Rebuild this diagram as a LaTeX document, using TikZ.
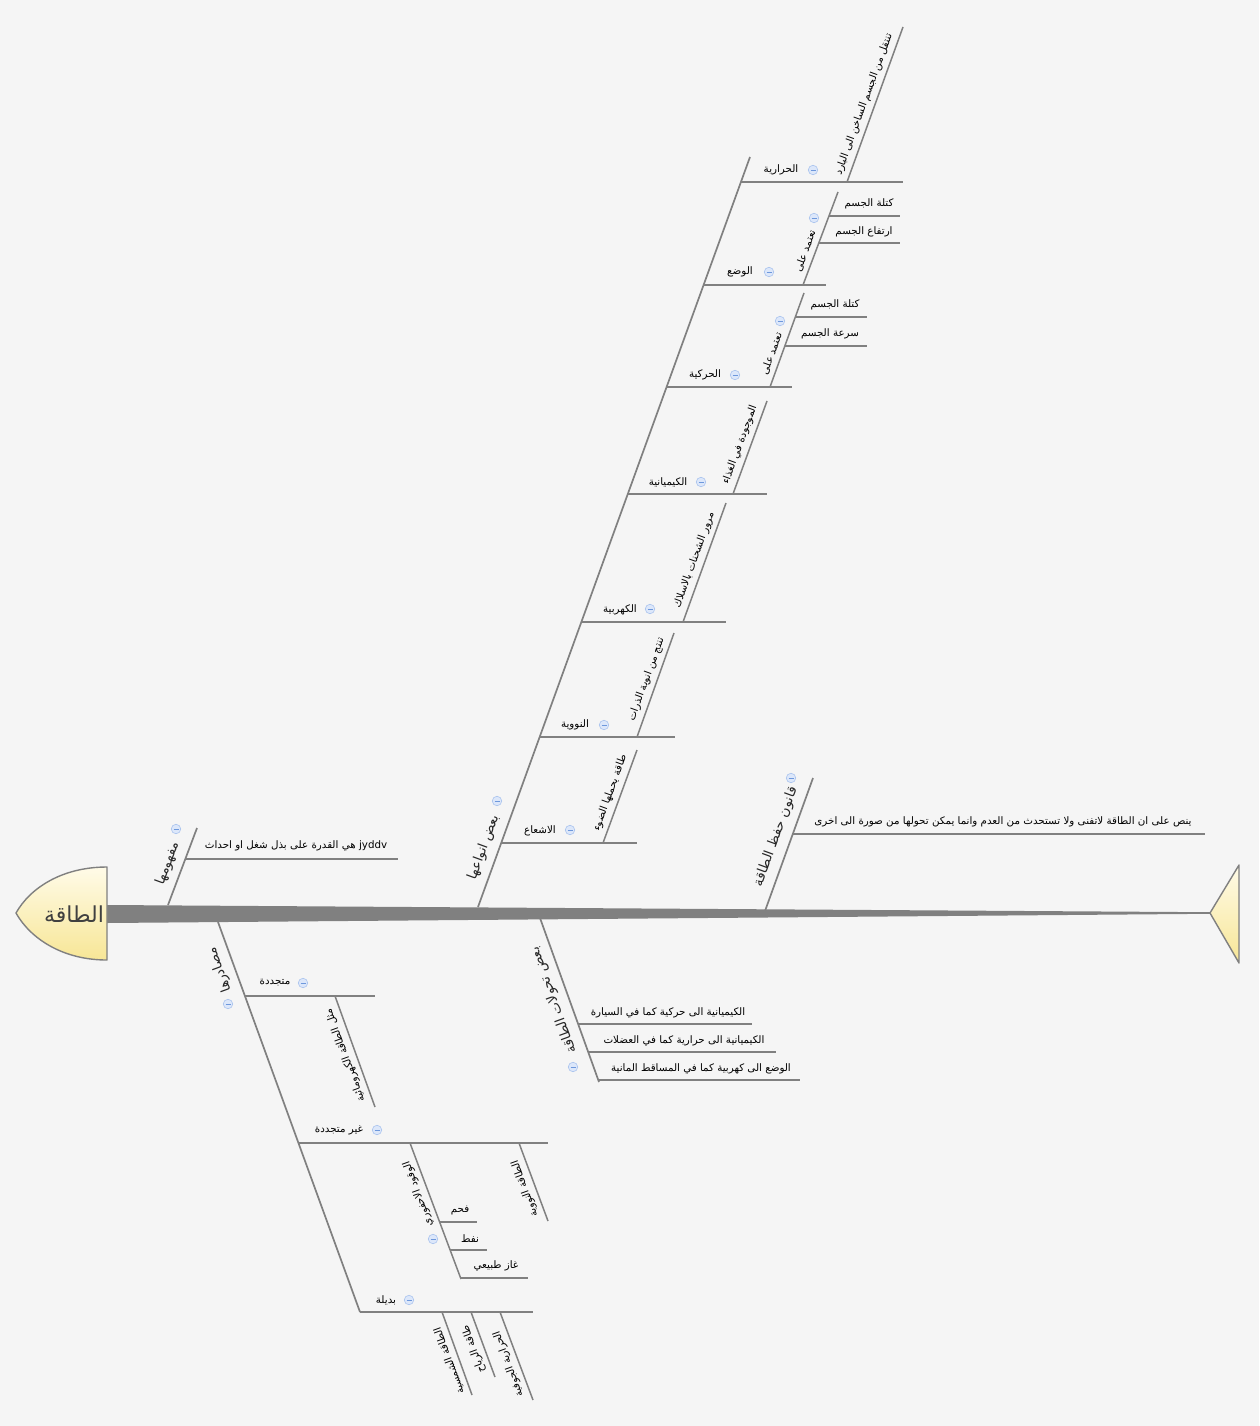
\documentclass[tikz,border=0pt]{standalone}
\usepackage{fontspec}
\newfontfamily\arabicfont[Script=Arabic]{DejaVu Sans}
\TeXXeTstate=1
\newcommand{\artxt}[1]{\beginR #1\endR}
\definecolor{bgc}{HTML}{F5F5F5}
\definecolor{linegray}{HTML}{808080}
\definecolor{headtop}{HTML}{FFFBE8}
\definecolor{headbot}{HTML}{F7E696}
\definecolor{btnfill}{HTML}{DCE7FA}
\definecolor{btnedge}{HTML}{A9C3EE}
\definecolor{btnminus}{HTML}{6E98DC}
\tikzset{
  bone/.style={draw=linegray, line width=1.7pt},
  subline/.style={draw=linegray, line width=1.5pt},
  lbl/.style={inner sep=0pt, text=black, font=\arabicfont\fontsize{10.3}{12}\selectfont},
  blbl/.style={inner sep=0pt, text=black!85, font=\arabicfont\fontsize{13.5}{15}\selectfont},
  upside/.style={rotate=70, anchor=south, inner sep=5pt},
  downside/.style={rotate=110, anchor=south, inner sep=5pt},
  bupside/.style={rotate=70, anchor=south, inner sep=8pt},
  bdownside/.style={rotate=110, anchor=south, inner sep=8pt},
  btn/.style={circle, inner sep=0pt, minimum size=9.5pt, fill=btnfill, draw=btnedge, line width=0.6pt,
    path picture={\draw[btnminus, line width=0.8pt] ([xshift=-2.5pt]path picture bounding box.center) -- ([xshift=2.5pt]path picture bounding box.center);}},
}
\begin{document}
\begin{tikzpicture}[x=1pt, y=-1pt]
\fill[bgc] (0,0) rectangle (1259,1426);
\useasboundingbox (0,0) rectangle (1259,1426);

% ---------- spine ----------
\coordinate (spL1) at (107,905);
\coordinate (spL2) at (107,923);
\coordinate (spR) at (1210,913);
\fill[linegray] (spL1) -- ([yshift=0.8pt]spR) -- ([yshift=-0.8pt]spR) -- (spL2) -- cycle;

% ---------- head ----------
\coordinate (hTop) at (107,867);
\coordinate (hTip) at (16,913);
\coordinate (hBot) at (107,960);
\shade[top color=headtop, bottom color=headbot] (hTop) .. controls (62,867) and (30,888) .. (hTip) .. controls (30,938) and (62,960) .. (hBot) -- cycle;
\draw[linegray, line width=1.4pt, line join=round] (hTop) .. controls (62,867) and (30,888) .. (hTip) .. controls (30,938) and (62,960) .. (hBot) -- cycle;
\node[inner sep=0pt, text=black!75, font=\arabicfont\fontsize{22}{25}\selectfont] (head) at (74,914) {\artxt{الطاقة}};

% ---------- tail ----------
\coordinate (tTip) at (1210,913);
\coordinate (tTop) at (1239,865);
\coordinate (tBot) at (1239,963);
\shade[top color=headtop, bottom color=headbot] (tTip) -- (tTop) -- (tBot) -- cycle;
\draw[linegray, line width=1.4pt, line join=round] (tTip) -- (tTop) -- (tBot) -- cycle;

% ---------- bone: mafhumuha ----------
\coordinate (mA) at (168,905);
\coordinate (mB) at (197,828);
\draw[bone] (mA) -- (mB);
\path (mA) -- (mB) node[blbl, bupside, pos=0.475] (mL) {\artxt{مفهومها}};
\node[btn] (mBtn) at (176,829) {};
\coordinate (m1a) at (185,859);
\coordinate (m1b) at (398,859);
\draw[subline] (m1a) -- (m1b);
\node[lbl] (m1L) at (296,846) {\artxt{\beginL jyddv\endL{} هي القدرة على بذل شغل او احداث}};

% ---------- bone: anwa ----------
\coordinate (aA) at (478,907);
\coordinate (aB) at (750,157);
\draw[bone] (aA) -- (aB);
\path (aA) -- (aB) node[blbl, bupside, pos=0.073] (aL) {\artxt{بعض انواعها}};
\node[btn] (aBtn) at (497,801) {};

% radiation
\coordinate (r0) at (501,843); \coordinate (r1) at (637,843);
\draw[subline] (r0) -- (r1);
\node[lbl] (rL) at (540,831) {\artxt{الاشعاع}};
\node[btn] (rBtn) at (570,830) {};
\coordinate (rs0) at (603,843); \coordinate (rs1) at (637,750);
\draw[subline] (rs0) -- (rs1);
\path (rs0) -- (rs1) node[lbl, upside, pos=0.5] (rsL) {\artxt{طاقة يحملها الضوء}};

% nuclear
\coordinate (n0) at (540,737); \coordinate (n1) at (675,737);
\draw[subline] (n0) -- (n1);
\node[lbl] (nL) at (575,725) {\artxt{النووية}};
\node[btn] (nBtn) at (604,725) {};
\coordinate (ns0) at (637,737); \coordinate (ns1) at (674,633);
\draw[subline] (ns0) -- (ns1);
\path (ns0) -- (ns1) node[lbl, upside, pos=0.52] (nsL) {\artxt{تنتج من انوية الذرات}};

% electric
\coordinate (e0) at (581,622); \coordinate (e1) at (726,622);
\draw[subline] (e0) -- (e1);
\node[lbl] (eL) at (620,610) {\artxt{الكهربية}};
\node[btn] (eBtn) at (650,609) {};
\coordinate (es0) at (683,622); \coordinate (es1) at (726,503);
\draw[subline] (es0) -- (es1);
\path (es0) -- (es1) node[lbl, upside, pos=0.49] (esL) {\artxt{مرور الشحنات بالاسلاك}};

% chemical
\coordinate (c0) at (628,494); \coordinate (c1) at (767,494);
\draw[subline] (c0) -- (c1);
\node[lbl] (cL) at (668,482) {\artxt{الكيميانية}};
\node[btn] (cBtn) at (701,482) {};
\coordinate (cs0) at (733,494); \coordinate (cs1) at (767,401);
\draw[subline] (cs0) -- (cs1);
\path (cs0) -- (cs1) node[lbl, upside, pos=0.49] (csL) {\artxt{الموجودة في الغذاء}};

% kinetic
\coordinate (k0) at (666,387); \coordinate (k1) at (792,387);
\draw[subline] (k0) -- (k1);
\node[lbl] (kL) at (705,375) {\artxt{الحركية}};
\node[btn] (kBtn) at (735,375) {};
\coordinate (ks0) at (770,387); \coordinate (ks1) at (804,293);
\draw[subline] (ks0) -- (ks1);
\path (ks0) -- (ks1) node[lbl, upside, pos=0.32] (ksL) {\artxt{تعتمد على}};
\node[btn] (ksBtn) at (780,321) {};
\coordinate (k10) at (795,317); \coordinate (k11) at (867,317);
\draw[subline] (k10) -- (k11);
\node[lbl] (k1L) at (835,305) {\artxt{كتلة الجسم}};
\coordinate (k20) at (785,346); \coordinate (k21) at (867,346);
\draw[subline] (k20) -- (k21);
\node[lbl] (k2L) at (830,334) {\artxt{سرعة الجسم}};

% potential
\coordinate (p0) at (703,285); \coordinate (p1) at (826,285);
\draw[subline] (p0) -- (p1);
\node[lbl] (pL) at (740,272) {\artxt{الوضع}};
\node[btn] (pBtn) at (769,272) {};
\coordinate (ps0) at (803,285); \coordinate (ps1) at (838,192);
\draw[subline] (ps0) -- (ps1);
\path (ps0) -- (ps1) node[lbl, upside, pos=0.33] (psL) {\artxt{تعتمد على}};
\node[btn] (psBtn) at (814,218) {};
\coordinate (p10) at (829,216); \coordinate (p11) at (900,216);
\draw[subline] (p10) -- (p11);
\node[lbl] (p1L) at (869,204) {\artxt{كتلة الجسم}};
\coordinate (p20) at (819,243); \coordinate (p21) at (900,243);
\draw[subline] (p20) -- (p21);
\node[lbl] (p2L) at (864,232) {\artxt{ارتفاع الجسم}};

% thermal
\coordinate (h0) at (741,182); \coordinate (h1) at (903,182);
\draw[subline] (h0) -- (h1);
\node[lbl] (thL) at (781,170) {\artxt{الحرارية}};
\node[btn] (thBtn) at (813,170) {};
\coordinate (hs0) at (847,182); \coordinate (hs1) at (903,27);
\draw[subline] (hs0) -- (hs1);
\path (hs0) -- (hs1) node[lbl, upside, pos=0.48] (hsL) {\artxt{تنتقل من الجسم الساخن الى البارد}};

% ---------- bone: qanun ----------
\coordinate (qA) at (765,911);
\coordinate (qB) at (813,778);
\draw[bone] (qA) -- (qB);
\path (qA) -- (qB) node[blbl, bupside, pos=0.52] (qL) {\artxt{قانون حفظ الطاقة}};
\node[btn] (qBtn) at (791,778) {};
\coordinate (q10) at (793,834); \coordinate (q11) at (1205,834);
\draw[subline] (q10) -- (q11);
\node[lbl] (q1L) at (1003,822) {\artxt{ينص على ان الطاقة لاتفنى ولا تستحدث من العدم وانما يمكن تحولها من صورة الى اخرى}};

% ---------- bone: masadir ----------
\coordinate (sA) at (218,922);
\coordinate (sB) at (360,1312);
\draw[bone] (sA) -- (sB);
\path (sA) -- (sB) node[blbl, bdownside, pos=0.11] (sL) {\artxt{مصادرها}};
\node[btn] (sBtn) at (228,1004) {};

% renewable
\coordinate (u0) at (245,996); \coordinate (u1) at (375,996);
\draw[subline] (u0) -- (u1);
\node[lbl] (uL) at (275,983) {\artxt{متجددة}};
\node[btn] (uBtn) at (303,983) {};
\coordinate (us0) at (335,996); \coordinate (us1) at (375,1107);
\draw[subline] (us0) -- (us1);
\path (us0) -- (us1) node[lbl, downside, pos=0.5] (usL) {\artxt{مثل الطاقة الكهرومائية}};

% non-renewable
\coordinate (v0) at (298,1143); \coordinate (v1) at (548,1143);
\draw[subline] (v0) -- (v1);
\node[lbl] (vL) at (339,1130) {\artxt{غير متجددة}};
\node[btn] (vBtn) at (377,1130) {};
\coordinate (vn0) at (519,1143); \coordinate (vn1) at (548,1221);
\draw[subline] (vn0) -- (vn1);
\path (vn0) -- (vn1) node[lbl, downside, pos=0.54] (vnL) {\artxt{الطاقة النووية}};
\coordinate (vf0) at (410,1143); \coordinate (vf1) at (461,1279);
\draw[subline] (vf0) -- (vf1);
\path (vf0) -- (vf1) node[lbl, downside, pos=0.35] (vfL) {\artxt{الوقود الاحفوري}};
\node[btn] (vfBtn) at (433,1239) {};
\coordinate (f10) at (440,1222); \coordinate (f11) at (477,1222);
\draw[subline] (f10) -- (f11);
\node[lbl] (f1L) at (460,1210) {\artxt{فحم}};
\coordinate (f20) at (450,1250); \coordinate (f21) at (487,1250);
\draw[subline] (f20) -- (f21);
\node[lbl] (f2L) at (470,1239) {\artxt{نفط}};
\coordinate (f30) at (460,1278); \coordinate (f31) at (528,1278);
\draw[subline] (f30) -- (f31);
\node[lbl] (f3L) at (496,1266) {\artxt{غاز طبيعي}};

% alternative
\coordinate (w0) at (360,1312); \coordinate (w1) at (533,1312);
\draw[subline] (w0) -- (w1);
\node[lbl] (wL) at (386,1300) {\artxt{بديلة}};
\node[btn] (wBtn) at (409,1300) {};
\coordinate (wa0) at (442,1312); \coordinate (wa1) at (472,1395);
\draw[subline] (wa0) -- (wa1);
\path (wa0) -- (wa1) node[lbl, downside, pos=0.55] (waL) {\artxt{الطاقة الشمسية}};
\coordinate (wb0) at (471,1312); \coordinate (wb1) at (495,1377);
\draw[subline] (wb0) -- (wb1);
\path (wb0) -- (wb1) node[lbl, downside, pos=0.52] (wbL) {\artxt{طاقة الرياح}};
\coordinate (wc0) at (500,1312); \coordinate (wc1) at (533,1400);
\draw[subline] (wc0) -- (wc1);
\path (wc0) -- (wc1) node[lbl, downside, pos=0.55] (wcL) {\artxt{الحرارية الجوفية}};

% ---------- bone: tahawwulat ----------
\coordinate (tA) at (540,918);
\coordinate (tB) at (599,1082);
\draw[bone] (tA) -- (tB);
\path (tA) -- (tB) node[blbl, bdownside, pos=0.47] (tL) {\artxt{بعض تحولات الطاقة}};
\node[btn] (tBtn) at (573,1067) {};
\coordinate (t10) at (578,1024); \coordinate (t11) at (752,1024);
\draw[subline] (t10) -- (t11);
\node[lbl] (t1L) at (668,1013) {\artxt{الكيميانية الى حركية كما في السيارة}};
\coordinate (t20) at (588,1052); \coordinate (t21) at (776,1052);
\draw[subline] (t20) -- (t21);
\node[lbl] (t2L) at (684,1041) {\artxt{الكيميانية الى حرارية كما في العضلات}};
\coordinate (t30) at (599,1080); \coordinate (t31) at (800,1080);
\draw[subline] (t30) -- (t31);
\node[lbl] (t3L) at (701,1069) {\artxt{الوضع الى كهربية كما في المساقط المانية}};
\end{tikzpicture}
\end{document}
